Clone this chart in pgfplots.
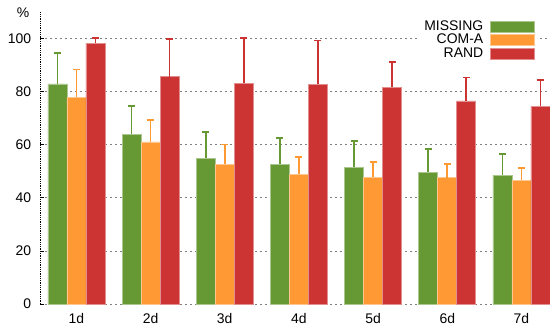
\documentclass[border=0pt]{standalone}
\usepackage{pgfplots}
\pgfplotsset{compat=1.18}
\usepackage{fontspec}
\setmainfont{Liberation Sans}

\definecolor{cMiss}{HTML}{669933}
\definecolor{cCom}{HTML}{FF9933}
\definecolor{cRand}{HTML}{CC3333}

\begin{document}
\fontsize{14}{17}\selectfont
\begin{tikzpicture}
\begin{axis}[
  at={(0,0)}, anchor=south west,
  scale only axis,
  width=510bp, height=292.3bp,
  xmin=-0.49, xmax=6.385,
  ymin=0, ymax=110,
  clip=false,
  ybar=0pt, bar width=19bp,
  xtick={0,1,2,3,4,5,6},
  xticklabels={1d,2d,3d,4d,5d,6d,7d},
  ytick={0,20,40,60,80,100},
  axis lines=left,
  axis line style={-},
  x axis line style={draw=none},
  y axis line style={black, densely dotted, line width=0.8bp},
  xtick style={draw=none},
  ytick style={black, line width=0.6bp},
  major tick length=4bp,
  tick align=inside,
  ymajorgrids,
  major grid style={gray, line width=0.7bp, dash pattern=on 2bp off 3bp},
  /pgf/number format/assume math mode=true,
  tick label style={font=\fontsize{14}{17}\selectfont},
  yticklabel style={xshift=-4bp},
  xticklabel style={yshift=-5bp},
  legend plot pos=right,
  legend cell align=right,
  legend style={at={(rel axis cs:1,1)}, anchor=north east, xshift=-13bp, yshift=-4.5bp,
    draw=none, fill=white, font=\fontsize{14}{17}\selectfont,
    row sep=-2bp, column sep=5bp, inner sep=2bp},
  legend image code/.code={\fill[#1] (0bp,-5.5bp) rectangle (44bp,5.5bp);},
  error bars/y dir=plus,
  error bars/y explicit,
]
\addplot[fill=cMiss, draw=cMiss!55!white, line width=0.6bp,
  error bars/error bar style={cMiss, line width=1.6bp},
  error bars/error mark options={cMiss, rotate=90, mark size=3.5bp, line width=1.6bp}]
  coordinates {
  (0,82.8) +- (0,11.6)
  (1,63.9) +- (0,10.5)
  (2,54.9) +- (0,9.8)
  (3,52.6) +- (0,9.9)
  (4,51.5) +- (0,9.8)
  (5,49.6) +- (0,8.7)
  (6,48.5) +- (0,7.9)
  };
\addplot[fill=cCom, draw=cCom!55!white, line width=0.6bp,
  error bars/error bar style={cCom, line width=1.6bp},
  error bars/error mark options={cCom, rotate=90, mark size=3.5bp, line width=1.6bp}]
  coordinates {
  (0,77.8) +- (0,10.5)
  (1,61.0) +- (0,8.2)
  (2,52.6) +- (0,7.4)
  (3,48.9) +- (0,6.5)
  (4,47.7) +- (0,5.8)
  (5,47.5) +- (0,5.1)
  (6,46.6) +- (0,4.6)
  };
\addplot[fill=cRand, draw=cRand!55!white, line width=0.6bp,
  error bars/error bar style={cRand, line width=1.6bp},
  error bars/error mark options={cRand, rotate=90, mark size=3.5bp, line width=1.6bp}]
  coordinates {
  (0,98.2) +- (0,1.9)
  (1,85.6) +- (0,14.1)
  (2,83.1) +- (0,16.9)
  (3,82.7) +- (0,16.4)
  (4,81.5) +- (0,9.6)
  (5,76.4) +- (0,8.8)
  (6,74.4) +- (0,9.8)
  };
\legend{MISSING,COM-A,RAND}
\node[anchor=center] at (rel axis cs:0,1) [xshift=-17bp, yshift=-1bp] {\%};
\end{axis}
\pgfresetboundingbox
\path[use as bounding box] (-40bp,-25bp) rectangle (510bp,304bp);
\end{tikzpicture}
\end{document}
